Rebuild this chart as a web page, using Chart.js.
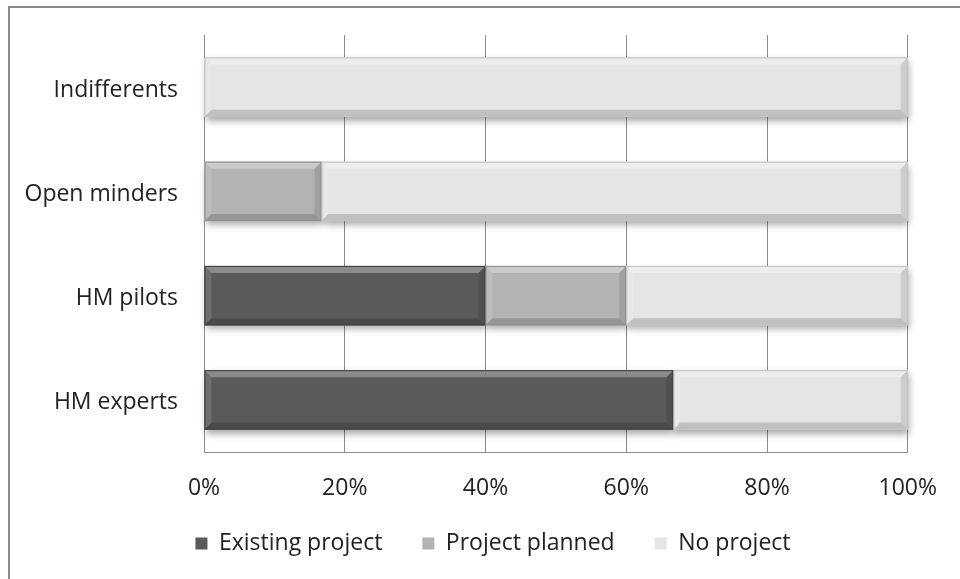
<!DOCTYPE html>
<html>
<head>
<meta charset="utf-8">
<script src="https://cdn.jsdelivr.net/npm/chart.js@4/dist/chart.umd.min.js"></script>
<style>
  html, body { margin: 0; padding: 0; background: #fff; overflow: hidden; }
  #wrap { position: relative; width: 960px; height: 579px; }
  #frame { position: absolute; left: 8px; top: 6px; width: 980px; height: 600px; border: 2px solid #8a8a8a; box-sizing: border-box; pointer-events: none; }
</style>
</head>
<body>
<div id="wrap">
  <canvas id="chart" width="960" height="579"></canvas>
  <div id="frame"></div>
</div>
<script>
// Share of respondents by project status, per segment (%)
const categories = ['Indifferents', 'Open minders', 'HM pilots', 'HM experts'];
const existingProject = [0, 0, 40, 66.7];
const projectPlanned = [0, 16.7, 20, 0];
const noProject = [100, 83.3, 40, 33.3];
const xTicks = [0, 20, 40, 60, 80, 100];

const FONT = { family: '"Open Sans"', size: 23 };

const barBox = el => {
  const p = el.getProps(['x', 'y', 'base', 'height'], true);
  return {
    l: Math.min(p.x, p.base), r: Math.max(p.x, p.base),
    t: p.y - p.height / 2, b: p.y + p.height / 2
  };
};

// soft drop shadow under each bar
const barShadow = {
  id: 'barShadow',
  beforeDatasetsDraw(chart) {
    const ctx = chart.ctx;
    ctx.save();
    ctx.shadowColor = 'rgba(0,0,0,0.35)';
    ctx.shadowBlur = 7;
    ctx.shadowOffsetY = 4;
    ctx.shadowOffsetX = 1;
    chart.data.datasets.forEach((ds, i) => {
      chart.getDatasetMeta(i).data.forEach(el => {
        const r = barBox(el);
        if (r.r - r.l < 1) return;
        ctx.fillStyle = ds.backgroundColor;
        ctx.fillRect(r.l, r.t, r.r - r.l, r.b - r.t);
      });
    });
    ctx.restore();
  }
};

// bevelled edges on top of each bar
const barBevel = {
  id: 'barBevel',
  afterDatasetsDraw(chart) {
    const ctx = chart.ctx;
    const poly = (pts, fill) => {
      ctx.beginPath();
      ctx.moveTo(pts[0][0], pts[0][1]);
      pts.slice(1).forEach(p => ctx.lineTo(p[0], p[1]));
      ctx.closePath();
      ctx.fillStyle = fill;
      ctx.fill();
    };
    ctx.save();
    chart.data.datasets.forEach((ds, i) => {
      chart.getDatasetMeta(i).data.forEach(el => {
        const { l, r, t, b } = barBox(el);
        if (r - l < 1) return;
        const s = 7;
        poly([[l, t], [r, t], [r - s, t + s], [l + s, t + s]], 'rgba(255,255,255,0.30)');
        poly([[l, t], [l + s, t + s], [l + s, b - s], [l, b]], 'rgba(255,255,255,0.12)');
        poly([[l, b], [l + s, b - s], [r - s, b - s], [r, b]], 'rgba(0,0,0,0.16)');
        poly([[r, t], [r, b], [r - s, b - s], [r - s, t + s]], 'rgba(0,0,0,0.10)');
        ctx.strokeStyle = ds.borderColor;
        ctx.lineWidth = 1;
        ctx.strokeRect(l + 0.5, t + 0.5, r - l - 1, b - t - 1);
      });
    });
    ctx.restore();
  }
};

// legend sits a bit right of the canvas centre and slightly higher
const legendShift = {
  id: 'legendShift',
  afterLayout(chart) {
    chart.legend.left += 75;
    chart.legend.top -= 10;
  }
};

const ctx = document.getElementById('chart').getContext('2d');
new Chart(ctx, {
  type: 'bar',
  data: {
    labels: categories,
    datasets: [
      { label: 'Existing project', data: existingProject, backgroundColor: '#5a5a5a', borderColor: '#3e3e3e', borderWidth: 0 },
      { label: 'Project planned', data: projectPlanned, backgroundColor: '#b3b3b3', borderColor: '#8e8e8e', borderWidth: 0 },
      { label: 'No project', data: noProject, backgroundColor: '#e5e5e5', borderColor: '#c2c2c2', borderWidth: 0 }
    ]
  },
  options: {
    indexAxis: 'y',
    responsive: false,
    animation: false,
    categoryPercentage: 0.57,
    barPercentage: 1,
    layout: { padding: { top: 35, left: 0, right: 49, bottom: 4 } },
    scales: {
      x: {
        stacked: true,
        min: 0,
        max: 100,
        afterBuildTicks: axis => { axis.ticks = xTicks.map(v => ({ value: v })); },
        afterFit: axis => { axis.height = 50; },
        grid: { color: '#8c8c8c', drawTicks: false },
        border: { color: '#8c8c8c' },
        ticks: {
          padding: 23,
          color: '#222',
          font: FONT,
          callback: v => v + '%'
        }
      },
      y: {
        stacked: true,
        afterFit: axis => { axis.width = 204; },
        grid: { display: false },
        border: { color: '#8c8c8c' },
        ticks: {
          padding: 18,
          labelOffset: 3,
          color: '#222',
          font: FONT
        }
      }
    },
    plugins: {
      legend: {
        position: 'bottom',
        labels: {
          boxWidth: 12,
          boxHeight: 12,
          padding: 40,
          color: '#222',
          font: FONT
        }
      },
      tooltip: { enabled: false }
    }
  },
  plugins: [barShadow, barBevel, legendShift]
});
</script>
</body>
</html>
